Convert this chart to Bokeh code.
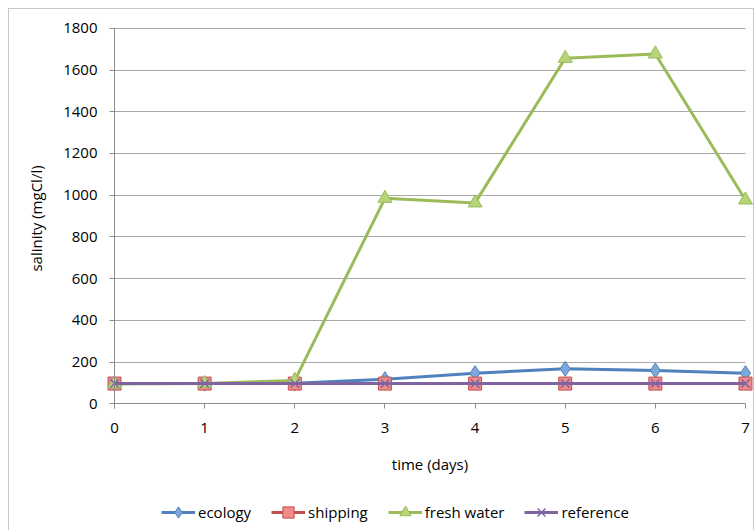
from bokeh.plotting import figure
from bokeh.models import Range1d, Legend, LegendItem, FixedTicker
from bokeh.embed import file_html
from bokeh.resources import INLINE

days = [0, 1, 2, 3, 4, 5, 6, 7]
ecology = [97, 97, 98, 118, 147, 168, 160, 147]
shipping = [97, 97, 97, 97, 97, 97, 97, 97]
fresh_water = [95, 97, 112, 985, 963, 1656, 1677, 977]
reference = [97, 97, 97, 97, 97, 97, 97, 97]
y_ticks = [0, 200, 400, 600, 800, 1000, 1200, 1400, 1600, 1800]

FONT = "Open Sans"

p = figure(width=746, height=522, output_backend="svg", toolbar_location=None,
           x_range=Range1d(-1.165, 7.111), y_range=Range1d(-612, 1890),
           min_border_left=0, min_border_right=0, min_border_top=0, min_border_bottom=0)
p.margin = (8, 0, 0, 8)
p.styles = {"border-left": "1px solid #c8c8c8", "border-top": "1px solid #c8c8c8",
            "border-right": "1px solid #c8c8c8"}
p.outline_line_color = None
p.background_fill_color = "white"

p.xgrid.visible = False
p.ygrid.grid_line_color = "#a8a8a8"
p.ygrid.grid_line_width = 1
p.ygrid.cross_bounds = (0, 7)

p.xaxis.ticker = FixedTicker(ticks=days)
p.yaxis.ticker = FixedTicker(ticks=y_ticks)
p.xaxis.fixed_location = 0
p.yaxis.fixed_location = 0
p.xaxis.bounds = (0, 7)
p.yaxis.bounds = (-24, 1800)
for ax in (p.xaxis[0], p.yaxis[0]):
    ax.axis_line_color = "#8c8c8c"
    ax.major_tick_line_color = "#8c8c8c"
    ax.major_tick_out = 5
    ax.major_tick_in = 0
    ax.minor_tick_line_color = None
    ax.major_label_text_font = FONT
    ax.major_label_text_font_size = "15px"
    ax.major_label_text_color = "#000000"
    ax.axis_label_text_font = FONT
    ax.axis_label_text_font_size = "15px"
    ax.axis_label_text_font_style = "normal"
    ax.axis_label_text_color = "#000000"

p.xaxis.axis_label = "time (days)"
p.yaxis.axis_label = "salinity (mgCl/l)"
p.xaxis.major_label_standoff = 14
p.yaxis.major_label_standoff = 12
p.xaxis.axis_label_standoff = 18
p.yaxis.axis_label_standoff = 14

series = [
    ("ecology", ecology, "#4F81BD", "diamond", "#7FA8DA", 15),
    ("shipping", shipping, "#C0504D", "square", "#F08C89", 13),
    ("fresh water", fresh_water, "#9BBB59", "triangle", "#B7D47A", 14),
    ("reference", reference, "#8064A2", "x", "#8064A2", 12),
]

items = []
for name, vals, col, mk, fill, sz in series:
    ln = p.line(days, vals, line_color=col, line_width=3)
    sc = p.scatter(days, vals, marker=mk, size=sz, fill_color=fill,
                   line_color=col, line_width=1.5 if mk == "x" else 1)
    items.append(LegendItem(label=name, renderers=[ln, sc]))

legend = Legend(items=items, orientation="horizontal", location=(152, 5),
                glyph_width=34, glyph_height=28, label_standoff=3, spacing=20,
                padding=0, margin=0, border_line_color=None, background_fill_alpha=0,
                label_text_font=FONT, label_text_font_size="15px", label_text_color="#000000")
p.add_layout(legend, "center")

open("out.html", "w").write(file_html(p, INLINE))
